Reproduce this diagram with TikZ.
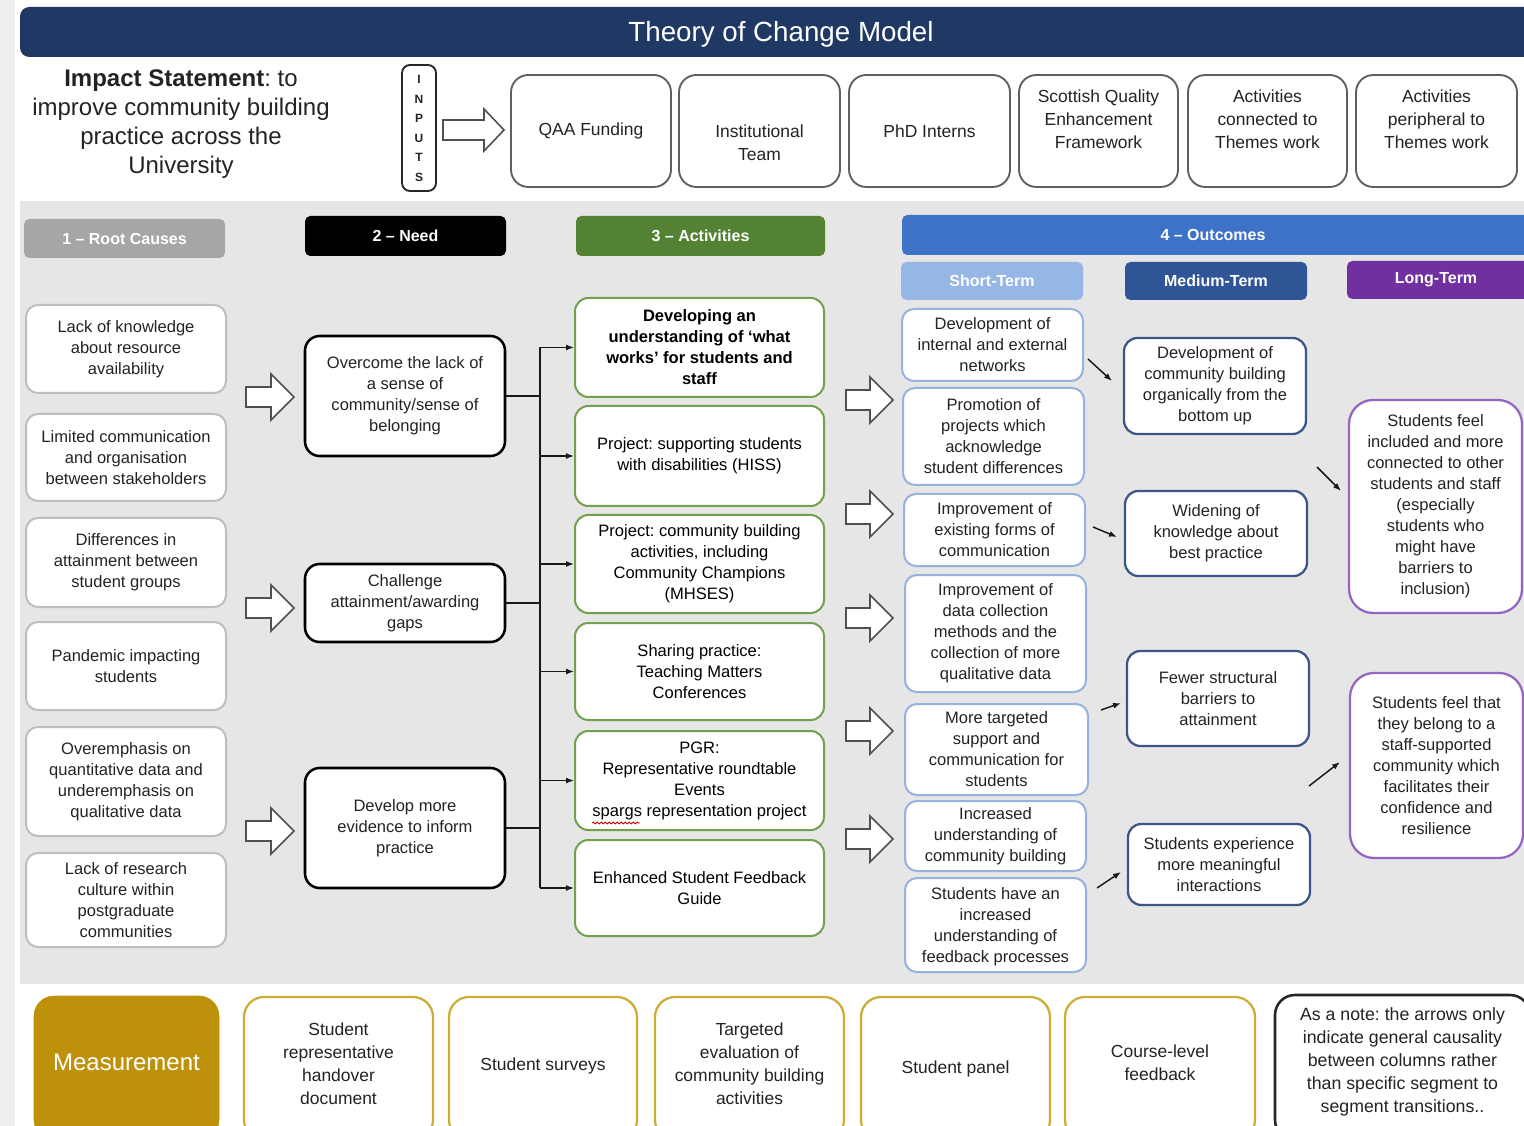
\documentclass[tikz,border=0pt]{standalone}
\usepackage{fontspec}
\setmainfont{Liberation Sans}
\usetikzlibrary{arrows.meta,decorations.pathmorphing}
\definecolor{navy}{RGB}{31,56,100}
\definecolor{bggray}{RGB}{230,230,230}
\definecolor{stripgray}{RGB}{238,238,238}
\definecolor{txt}{RGB}{35,35,35}
\definecolor{rcgray}{RGB}{190,190,190}
\definecolor{rchead}{RGB}{166,166,166}
\definecolor{actgreen}{RGB}{112,160,80}
\definecolor{acthead}{RGB}{84,130,53}
\definecolor{outblue}{RGB}{62,114,200}
\definecolor{stfill}{RGB}{150,182,230}
\definecolor{stline}{RGB}{150,178,222}
\definecolor{mtfill}{RGB}{47,85,151}
\definecolor{mtline}{RGB}{60,85,135}
\definecolor{ltfill}{RGB}{112,48,160}
\definecolor{ltline}{RGB}{150,100,195}
\definecolor{inpline}{RGB}{95,95,95}
\definecolor{goldfill}{RGB}{190,145,10}
\definecolor{goldline}{RGB}{205,172,55}
\definecolor{arrowline}{RGB}{80,80,80}
\frenchspacing

% #1 text offset (px), #2 name, #3 style, #4 x1, #5 y1, #6 x2, #7 y2, #8 text
\newcommand{\ocbox}[8][0]{%
  \node[#3, minimum width={(#6-#4)*0.75pt}, minimum height={(#7-#5)*0.75pt}] (#2) at ({(#4+#6)/2},{(#5+#7)/2}) {};
  \node[#3, draw=none, fill=none, minimum width=0pt, minimum height=0pt] (#2t) at ({(#4+#6)/2},{(#5+#7)/2+#1}) {#8};}

% #1 name, #2 x0, #3 cy, #4 length, #5 head half height, #6 head length, #7 shaft half
\newcommand{\ocarrow}[7]{%
  \coordinate (#1) at (#2,#3);
  \draw[blockarrow] ({#2},{#3-#7}) -- ({#2+#4-#6},{#3-#7}) -- ({#2+#4-#6},{#3-#5}) -- ({#2+#4},{#3}) -- ({#2+#4-#6},{#3+#5}) -- ({#2+#4-#6},{#3+#7}) -- ({#2},{#3+#7}) -- cycle;}

\begin{document}
\frenchspacing
\begin{tikzpicture}[x=0.75pt,y=-0.75pt,
  base/.style={align=center, inner sep=0pt, text=txt, font=\frenchspacing\fontsize{12.4}{15.75}\selectfont},
  rc/.style={base, draw=rcgray, line width=1.5pt, fill=white, rounded corners=9pt},
  need/.style={base, draw=black, line width=1.9pt, fill=white, rounded corners=11pt},
  act/.style={base, draw=actgreen, line width=1.5pt, fill=white, rounded corners=10pt, text=black},
  st/.style={base, draw=stline, line width=1.5pt, fill=white, rounded corners=9pt},
  mt/.style={base, draw=mtline, line width=1.7pt, fill=white, rounded corners=10pt},
  lt/.style={base, draw=ltline, line width=1.7pt, fill=white, rounded corners=18pt},
  inp/.style={base, draw=inpline, line width=1.4pt, fill=white, rounded corners=13pt, font=\fontsize{13.1}{17.25}\selectfont},
  meas/.style={base, draw=goldline, line width=1.7pt, fill=white, rounded corners=15pt, font=\fontsize{13.1}{17.25}\selectfont},
  measmain/.style={base, draw=goldfill, fill=goldfill, rounded corners=15pt, text=white, font=\fontsize{18}{21}\selectfont},
  notebox/.style={base, draw=black!85, line width=1.9pt, fill=white, rounded corners=15pt, font=\frenchspacing\fontsize{13.3}{17.25}\selectfont},
  hdr/.style={align=center, inner sep=0pt, text=white, rounded corners=4pt, font=\bfseries\fontsize{12}{14}\selectfont},
  blockarrow/.style={draw=arrowline, line width=1.2pt, fill=white, line join=miter},
  conn/.style={draw=black!90, line width=1.1pt},
  tip/.style={conn, -{Latex[length=6pt,width=4.5pt]}}
]
\useasboundingbox (0,0) rectangle (1524,1126);
\clip (0,0) rectangle (1524,1126);
% backgrounds
\fill[white] (0,0) rectangle (1524,1126);
\fill[stripgray] (0,0) rectangle (15,1126);
\fill[bggray] (20,201) rectangle (1524,984);
\fill[navy, rounded corners=7pt] (20,7) rectangle (1540,57);
\node[text=white, font=\fontsize{20.8}{24}\selectfont] (title) at (781,34) {Theory of Change Model};

% impact statement
\node[align=center, text=txt, font=\fontsize{18}{21.75}\selectfont] (impact) at (181,124)
  {\textbf{Impact Statement}: to\\improve community building\\practice across the\\University};

% inputs
\node[draw=black!85, line width=1.4pt, rounded corners=6pt, fill=white, minimum width={34*0.75pt}, minimum height={126*0.75pt}, inner sep=0pt] (inputs) at (419,128) {};
\node[align=center, inner sep=0pt, text=txt, font=\bfseries\fontsize{9}{14.6}\selectfont] (inputst) at (419,128.5) {I\\N\\P\\U\\T\\S};
\ocarrow{inarrow}{443}{130}{61}{21}{20}{10}

\ocbox{i1}{inp}{511}{75}{671}{187}{QAA Funding}
\ocbox[12]{i2}{inp}{679}{75}{840}{187}{Institutional\\Team}
\ocbox{i3}{inp}{849}{75}{1010}{187}{PhD Interns}
\ocbox[-12]{i4}{inp}{1019}{75}{1178}{187}{Scottish Quality\\Enhancement\\Framework}
\ocbox[-12]{i5}{inp}{1188}{75}{1347}{187}{Activities\\connected to\\Themes work}
\ocbox[-12]{i6}{inp}{1356}{75}{1517}{187}{Activities\\peripheral to\\Themes work}

% headers
\ocbox{hrc}{hdr, fill=rchead}{24}{219}{225}{258}{1 – Root Causes}
\ocbox{hneed}{hdr, fill=black}{305}{216}{506}{256}{2 – Need}
\ocbox{hact}{hdr, fill=acthead}{576}{216}{825}{256}{3 – Activities}
\ocbox{hout}{hdr, fill=outblue}{902}{215}{1540}{255}{}
\node[hdr] (houtt) at (1213,235) {4 – Outcomes};
\ocbox{hst}{hdr, fill=stfill}{901}{262}{1083}{300}{Short-Term}
\ocbox{hmt}{hdr, fill=mtfill}{1125}{262}{1307}{300}{Medium-Term}
\ocbox{hlt}{hdr, fill=ltfill}{1347}{261}{1540}{299}{}
\node[hdr] (hltt) at (1436,280) {Long-Term};

% root causes
\ocbox{r1}{rc}{26}{305}{226}{393}{Lack of knowledge\\about resource\\availability}
\ocbox{r2}{rc}{26}{414}{226}{501}{Limited communication\\and organisation\\between stakeholders}
\ocbox{r3}{rc}{26}{518}{226}{607}{Differences in\\attainment between\\student groups}
\ocbox{r4}{rc}{26}{622}{226}{710}{Pandemic impacting\\students}
\ocbox{r5}{rc}{26}{727}{226}{836}{Overemphasis on\\quantitative data and\\underemphasis on\\qualitative data}
\ocbox{r6}{rc}{26}{853}{226}{947}{Lack of research\\culture within\\postgraduate\\communities}

% root -> need block arrows
\ocarrow{ra1}{246}{397}{48}{23}{23}{10}
\ocarrow{ra2}{246}{608}{48}{23}{23}{10}
\ocarrow{ra3}{246}{831}{48}{23}{23}{10}

% needs
\ocbox{n1}{need}{305}{336}{505}{456}{Overcome the lack of\\a sense of\\community/sense of\\belonging}
\ocbox{n2}{need}{305}{564}{505}{642}{Challenge\\attainment/awarding\\gaps}
\ocbox{n3}{need}{305}{768}{505}{888}{Develop more\\evidence to inform\\practice}

% activities
\ocbox{a1}{act}{575}{298}{824}{397}{\textbf{Developing an}\\\textbf{understanding of ‘what}\\\textbf{works’ for students and}\\\textbf{staff}}
\ocbox{a2}{act}{575}{406}{824}{506}{Project: supporting students\\with disabilities (HISS)}
\ocbox{a3}{act}{575}{515}{824}{613}{Project: community building\\activities, including\\Community Champions\\(MHSES)}
\ocbox{a4}{act}{575}{623}{824}{720}{Sharing practice:\\Teaching Matters\\Conferences}
\ocbox{a5}{act}{575}{731}{824}{830}{PGR:\\Representative roundtable\\Events\\spargs representation project}
\ocbox{a6}{act}{575}{840}{824}{936}{Enhanced Student Feedback\\Guide}
\draw[red!80!black, line width=0.6pt, decorate, decoration={snake, amplitude=0.7pt, segment length=3pt}] (592,823) -- (640,823);

% need -> activities connectors
\path (a1.west) ++(-34,0) coordinate (bustop);
\path (a6.west) ++(-34,0) coordinate (busbot);
\draw[conn] (n1.east) -- (n1.east -| bustop);
\draw[conn] (n2.east) -- (n2.east -| bustop);
\draw[conn] (n3.east) -- (n3.east -| bustop);
\draw[conn] (bustop) -- (busbot);
\foreach \i in {1,...,6} \draw[tip] (a\i.west -| bustop) -- (a\i.west);

% activities -> outcomes block arrows
\ocarrow{oa1}{846}{400}{47}{23}{23}{10}
\ocarrow{oa2}{846}{514}{47}{23}{23}{10}
\ocarrow{oa3}{846}{618}{47}{23}{23}{10}
\ocarrow{oa4}{846}{731}{47}{23}{23}{10}
\ocarrow{oa5}{846}{839}{47}{23}{23}{10}

% short-term
\ocbox{s1}{st}{902}{309}{1083}{381}{Development of\\internal and external\\networks}
\ocbox{s2}{st}{903}{388}{1084}{485}{Promotion of\\projects which\\acknowledge\\student differences}
\ocbox{s3}{st}{904}{494}{1085}{566}{Improvement of\\existing forms of\\communication}
\ocbox{s4}{st}{905}{575}{1086}{692}{Improvement of\\data collection\\methods and the\\collection of more\\qualitative data}
\ocbox{s5}{st}{905}{704}{1088}{795}{More targeted\\support and\\communication for\\students}
\ocbox{s6}{st}{905}{801}{1086}{871}{Increased\\understanding of\\community building}
\ocbox[2]{s7}{st}{905}{878}{1086}{972}{Students have an\\increased\\understanding of\\feedback processes}

% medium-term
\ocbox{m1}{mt}{1124}{338}{1306}{434}{Development of\\community building\\organically from the\\bottom up}
\ocbox{m2}{mt}{1125}{491}{1307}{576}{Widening of\\knowledge about\\best practice}
\ocbox{m3}{mt}{1127}{651}{1309}{746}{Fewer structural\\barriers to\\attainment}
\ocbox{m4}{mt}{1128}{824}{1310}{905}{Students experience\\more meaningful\\interactions}

% long-term
\ocbox{l1}{lt}{1349}{400}{1522}{613}{Students feel\\included and more\\connected to other\\students and staff\\(especially\\students who\\might have\\barriers to\\inclusion)}
\ocbox{l2}{lt}{1350}{673}{1523}{858}{Students feel that\\they belong to a\\staff-supported\\community which\\facilitates their\\confidence and\\resilience}

% small causal arrows
\coordinate (d1s) at (1088,359); \coordinate (d1e) at (1112,381);
\coordinate (d2s) at (1093,527); \coordinate (d2e) at (1117,537);
\coordinate (d3s) at (1317,467); \coordinate (d3e) at (1341,491);
\coordinate (d4s) at (1101,710); \coordinate (d4e) at (1121,703);
\coordinate (d5s) at (1309,786); \coordinate (d5e) at (1340,762);
\coordinate (d6s) at (1097,888); \coordinate (d6e) at (1121,872);
\foreach \i in {1,...,6} \draw[tip] (d\i s) -- (d\i e);

% measurement row
\ocbox[-6]{ms}{measmain}{34}{996}{219}{1140}{Measurement}
\ocbox[-5]{b1}{meas}{244}{997}{433}{1140}{Student\\representative\\handover\\document}
\ocbox[-3]{b2}{meas}{449}{997}{637}{1140}{Student surveys}
\ocbox[-5]{b3}{meas}{655}{997}{844}{1140}{Targeted\\evaluation of\\community building\\activities}
\ocbox[0]{b4}{meas}{861}{997}{1050}{1140}{Student panel}
\ocbox[-6]{b5}{meas}{1065}{997}{1255}{1140}{Course-level\\feedback}
\ocbox[-6]{note}{notebox}{1275}{995}{1530}{1140}{As a note: the arrows only\\indicate general causality\\between columns rather\\than specific segment to\\segment transitions..}
\end{tikzpicture}
\end{document}
